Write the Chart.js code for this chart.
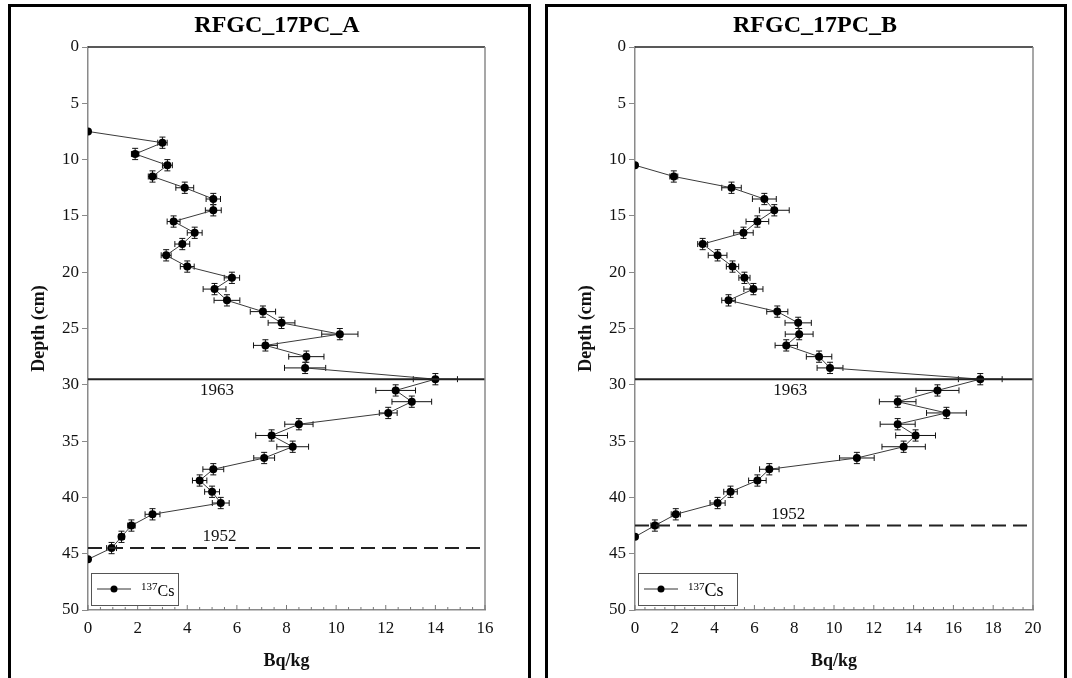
<!DOCTYPE html>
<html>
<head>
<meta charset="utf-8">
<script src="https://cdn.jsdelivr.net/npm/chart.js@4.4.1/dist/chart.umd.min.js"></script>
<style>
  body { margin: 0; background: #fff; width: 1072px; height: 678px; overflow: hidden; position: relative; }
  .panel { position: absolute; top: 4px; height: 700px; border: 3px solid #000; box-sizing: border-box; }
  .panel canvas { position: absolute; left: 0; top: 0; }
  .ttl { position: absolute; top: 11px; font: bold 24px "Liberation Serif", serif; transform: translateX(-50%); white-space: nowrap; }
</style>
</head>
<body>
<div class="panel" style="left:8px;width:523px"><canvas id="chartA" width="517" height="671"></canvas></div>
<div class="panel" style="left:545px;width:522px"><canvas id="chartB" width="516" height="671"></canvas></div>
<div class="ttl" style="left:277px">RFGC_17PC_A</div>
<div class="ttl" style="left:815px">RFGC_17PC_B</div>
<script>
// core A (depth in cm, 137Cs in Bq/kg, horizontal error)
const depthA = [7.5, 8.5, 9.5, 10.5, 11.5, 12.5, 13.5, 14.5, 15.5, 16.5, 17.5, 18.5, 19.5,
  20.5, 21.5, 22.5, 23.5, 24.5, 25.5, 26.5, 27.5, 28.5, 29.5, 30.5, 31.5, 32.5, 33.5,
  34.5, 35.5, 36.5, 37.5, 38.5, 39.5, 40.5, 41.5, 42.5, 43.5, 44.5, 45.5];
const csA = [0, 3.0, 1.9, 3.2, 2.6, 3.9, 5.05, 5.05, 3.45, 4.3, 3.8, 3.15, 4.0,
  5.8, 5.1, 5.6, 7.05, 7.8, 10.15, 7.15, 8.8, 8.75, 14.0, 12.4, 13.05, 12.1, 8.5,
  7.4, 8.25, 7.1, 5.05, 4.5, 5.0, 5.35, 2.6, 1.75, 1.35, 0.95, 0];
const errA = [0, 0.19, 0.15, 0.2, 0.17, 0.36, 0.29, 0.32, 0.26, 0.3, 0.3, 0.2, 0.28,
  0.31, 0.46, 0.52, 0.51, 0.54, 0.73, 0.48, 0.71, 0.83, 0.89, 0.8, 0.8, 0.36, 0.57,
  0.64, 0.64, 0.42, 0.42, 0.29, 0.3, 0.34, 0.3, 0.15, 0.12, 0.2, 0];

// core B
const depthB = [10.5, 11.5, 12.5, 13.5, 14.5, 15.5, 16.5, 17.5, 18.5, 19.5, 20.5, 21.5,
  22.5, 23.5, 24.5, 25.5, 26.5, 27.5, 28.5, 29.5, 30.5, 31.5, 32.5, 33.5, 34.5, 35.5,
  36.5, 37.5, 38.5, 39.5, 40.5, 41.5, 42.5, 43.5];
const csB = [0, 1.95, 4.85, 6.5, 7.0, 6.15, 5.45, 3.4, 4.15, 4.9, 5.5, 5.95,
  4.7, 7.15, 8.2, 8.25, 7.6, 9.25, 9.8, 17.35, 15.2, 13.2, 15.65, 13.2, 14.1, 13.5,
  11.15, 6.75, 6.15, 4.8, 4.15, 2.05, 1.0, 0];
const errB = [0, 0.2, 0.49, 0.6, 0.75, 0.57, 0.49, 0.25, 0.47, 0.31, 0.28, 0.48,
  0.34, 0.53, 0.66, 0.7, 0.56, 0.64, 0.65, 1.1, 1.08, 0.92, 1.0, 0.88, 1.0, 1.09,
  0.87, 0.49, 0.44, 0.34, 0.38, 0.23, 0.2, 0];

const depthHalf = 0.5;          // vertical bar = sampling interval
const depthTicks = [0, 5, 10, 15, 20, 25, 30, 35, 40, 45, 50];

// dated horizons: [depth, label, label x (Bq/kg)]
const horizonsA = [[29.5, '1963', 5.2], [44.5, '1952', 5.3]];
const horizonsB = [[29.5, '1963', 7.8], [42.5, '1952', 7.7]];

const SERIF = '"Liberation Serif", "Times New Roman", serif';

const extrasPlugin = {
  id: 'extras',
  beforeDatasetsDraw(chart, args, opts) {
    const { ctx } = chart;
    const xs = chart.scales.x, ys = chart.scales.y;
    const ds = chart.data.datasets[opts.seriesIndex];
    ctx.save();
    ctx.strokeStyle = '#111';
    ctx.lineWidth = 1;
    ds.data.forEach((p, i) => {
      const e = opts.errX[i];
      if (!e) return;
      const px = xs.getPixelForValue(p.x), py = ys.getPixelForValue(p.y);
      const x0 = xs.getPixelForValue(p.x - e), x1 = xs.getPixelForValue(p.x + e);
      const y0 = ys.getPixelForValue(p.y - depthHalf), y1 = ys.getPixelForValue(p.y + depthHalf);
      ctx.beginPath();
      ctx.moveTo(x0, py); ctx.lineTo(x1, py);
      ctx.moveTo(x0, py - 3); ctx.lineTo(x0, py + 3);
      ctx.moveTo(x1, py - 3); ctx.lineTo(x1, py + 3);
      ctx.moveTo(px, y0); ctx.lineTo(px, y1);
      ctx.moveTo(px - 3, y0); ctx.lineTo(px + 3, y0);
      ctx.moveTo(px - 3, y1); ctx.lineTo(px + 3, y1);
      ctx.stroke();
    });
    ctx.restore();
  },
  afterDraw(chart, args, opts) {
    const { ctx, chartArea: a } = chart;
    const xs = chart.scales.x, ys = chart.scales.y;
    ctx.save();
    // frame top/right
    ctx.strokeStyle = '#222';
    ctx.lineWidth = 1.5;
    ctx.beginPath(); ctx.moveTo(a.left, a.top); ctx.lineTo(a.right, a.top); ctx.stroke();
    ctx.strokeStyle = '#8a8a8a';
    ctx.beginPath(); ctx.moveTo(a.right, a.top); ctx.lineTo(a.right, a.bottom); ctx.stroke();
    // inward x ticks, minor every 0.5
    ctx.strokeStyle = '#777';
    ctx.lineWidth = 1;
    for (let v = 0; v <= xs.max + 1e-9; v += 0.5) {
      const px = xs.getPixelForValue(v);
      const len = (Math.abs(v % 2) < 1e-9) ? 5 : 3;
      ctx.beginPath(); ctx.moveTo(px, a.bottom); ctx.lineTo(px, a.bottom - len); ctx.stroke();
    }
    // horizon labels
    ctx.fillStyle = '#111';
    ctx.font = '17px ' + SERIF;
    ctx.textAlign = 'center';
    opts.horizons.forEach(([d, lab, lx], i) => {
      const py = ys.getPixelForValue(d);
      ctx.textBaseline = i === 0 ? 'top' : 'bottom';
      ctx.fillText(lab, xs.getPixelForValue(lx), i === 0 ? py + 3 : py - 3);
    });
    // legend box
    const bx = a.left + 3, by = a.bottom - 37, bw = opts.legendW, bh = 32;
    ctx.fillStyle = '#fff';
    ctx.fillRect(bx, by, bw, bh);
    ctx.strokeStyle = '#555';
    ctx.lineWidth = 1;
    ctx.strokeRect(bx + 0.5, by + 0.5, bw, bh);
    const ly = by + bh / 2;
    ctx.strokeStyle = '#333';
    ctx.beginPath(); ctx.moveTo(bx + 6, ly); ctx.lineTo(bx + 40, ly); ctx.stroke();
    ctx.fillStyle = '#000';
    ctx.beginPath(); ctx.arc(bx + 23, ly, 3.5, 0, Math.PI * 2); ctx.fill();
    ctx.textAlign = 'left';
    ctx.textBaseline = 'alphabetic';
    ctx.font = '11px ' + SERIF;
    ctx.fillText('137', bx + 50, ly + 1);
    const w = ctx.measureText('137').width;
    ctx.font = opts.legendFont + 'px ' + SERIF;
    ctx.fillText('Cs', bx + 50 + w, ly + 7);
    ctx.restore();
  }
};

function makeChart(id, depth, values, err, horizons, xMax, yWidth, rightPad, yTitlePad, legendW, legendFont) {
  const points = depth.map((d, i) => ({ x: values[i], y: d }));
  const lineSets = horizons.map(([d], i) => ({
    data: [{ x: 0, y: d }, { x: xMax, y: d }],
    showLine: true,
    borderColor: '#222',
    borderWidth: 2,
    borderDash: i === 0 ? [] : [14, 7],
    pointRadius: 0
  }));
  return new Chart(document.getElementById(id), {
    type: 'scatter',
    data: {
      datasets: [...lineSets, {
        label: '137Cs',
        data: points,
        showLine: true,
        borderColor: '#3a3a3a',
        borderWidth: 1,
        pointRadius: 4,
        pointBackgroundColor: '#000',
        pointBorderColor: '#000',
        pointBorderWidth: 0
      }]
    },
    options: {
      responsive: false,
      animation: false,
      layout: { padding: { left: 0, top: 40, right: rightPad, bottom: 0 } },
      plugins: {
        legend: { display: false },
        tooltip: { enabled: false },
        extras: { seriesIndex: horizons.length, errX: err, horizons: horizons, legendW: legendW, legendFont: legendFont }
      },
      scales: {
        x: {
          type: 'linear',
          min: 0, max: xMax,
          afterFit: s => { s.height = 68; },
          grid: { drawOnChartArea: false, drawTicks: false },
          border: { color: '#8a8a8a', width: 1.5 },
          ticks: { stepSize: 2, padding: 8, color: '#111', font: { family: SERIF, size: 17 } },
          title: { display: true, text: 'Bq/kg', color: '#111', padding: { top: 0, bottom: 6 }, font: { family: SERIF, size: 18, weight: 'bold' } }
        },
        y: {
          type: 'linear',
          reverse: true,
          min: 0, max: 50,
          afterFit: s => { s.width = yWidth; },
          afterBuildTicks: s => { s.ticks = depthTicks.map(v => ({ value: v })); },
          grid: { drawOnChartArea: false, drawTicks: true, tickLength: 6, color: '#8a8a8a' },
          border: { color: '#8a8a8a', width: 1.5 },
          ticks: { padding: 3, color: '#111', font: { family: SERIF, size: 17 } },
          title: { display: true, text: 'Depth (cm)', color: '#111', padding: { top: yTitlePad, bottom: 0 }, font: { family: SERIF, size: 18, weight: 'bold' } }
        }
      }
    },
    plugins: [extrasPlugin]
  });
}

makeChart('chartA', depthA, csA, errA, horizonsA, 16, 77, 43, 18, 87, 16);
makeChart('chartB', depthB, csB, errB, horizonsB, 20, 87, 31, 28, 99, 18);
</script>
</body>
</html>
